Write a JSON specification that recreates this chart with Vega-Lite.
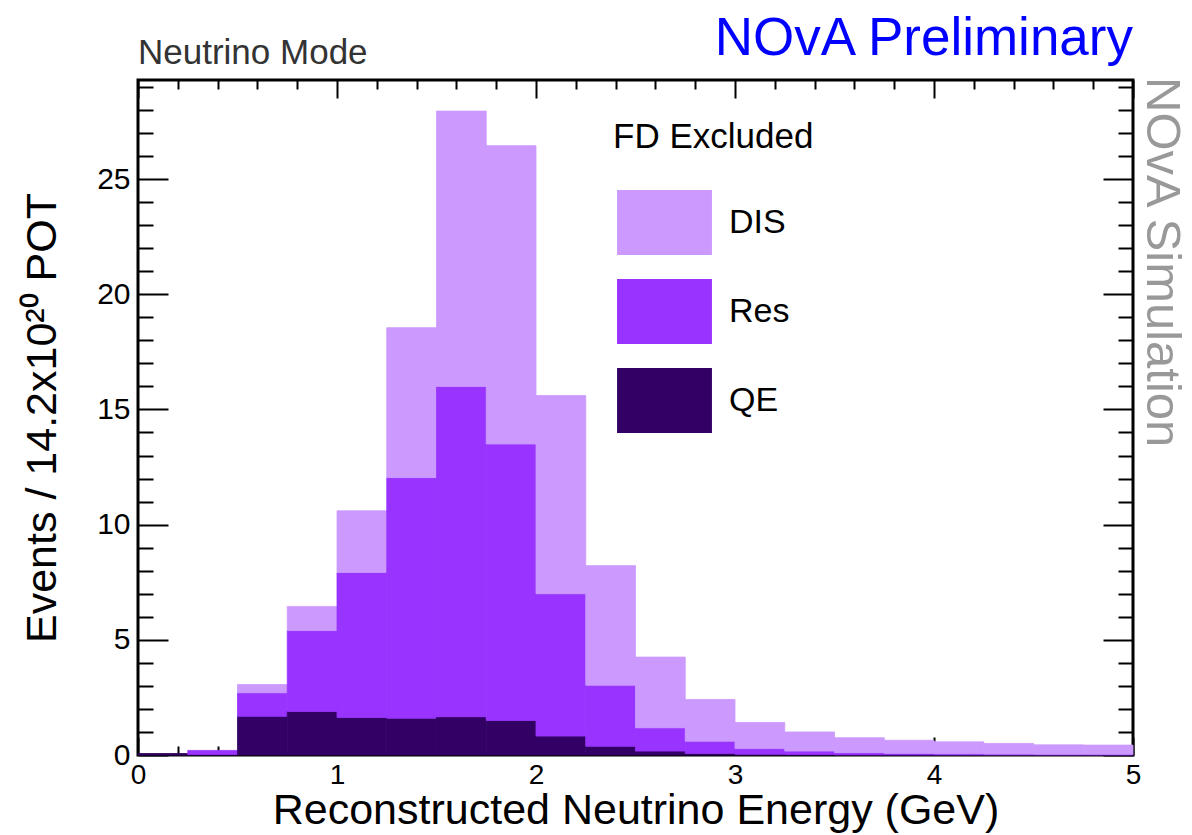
{
  "$schema": "https://vega.github.io/schema/vega-lite/v6.json",
  "width": 995,
  "height": 675,
  "autosize": {"type": "none"},
  "padding": {"left": 138, "top": 80, "right": 59, "bottom": 80},
  "background": "white",
  "config": {
    "font": "Liberation Sans",
    "view": {"stroke": "black", "strokeWidth": 3},
    "axis": {
      "domain": false,
      "grid": false,
      "tickColor": "black",
      "tickWidth": 2,
      "labelColor": "black",
      "titleColor": "black",
      "labelFont": "Liberation Sans",
      "titleFont": "Liberation Sans",
      "titleFontWeight": "normal",
      "labelFlush": false,
      "labelOverlap": false
    }
  },
  "datasets": {
    "hist": [
      {"lo": 0.00, "hi": 0.25, "mode": "QE", "n": 0.06},
      {"lo": 0.25, "hi": 0.50, "mode": "QE", "n": 0.02},
      {"lo": 0.25, "hi": 0.50, "mode": "Res", "n": 0.18},
      {"lo": 0.50, "hi": 0.75, "mode": "QE", "n": 1.68},
      {"lo": 0.50, "hi": 0.75, "mode": "Res", "n": 1.02},
      {"lo": 0.50, "hi": 0.75, "mode": "DIS", "n": 0.36},
      {"lo": 0.75, "hi": 1.00, "mode": "QE", "n": 1.89},
      {"lo": 0.75, "hi": 1.00, "mode": "Res", "n": 3.51},
      {"lo": 0.75, "hi": 1.00, "mode": "DIS", "n": 1.05},
      {"lo": 1.00, "hi": 1.25, "mode": "QE", "n": 1.63},
      {"lo": 1.00, "hi": 1.25, "mode": "Res", "n": 6.29},
      {"lo": 1.00, "hi": 1.25, "mode": "DIS", "n": 2.68},
      {"lo": 1.25, "hi": 1.50, "mode": "QE", "n": 1.60},
      {"lo": 1.25, "hi": 1.50, "mode": "Res", "n": 10.44},
      {"lo": 1.25, "hi": 1.50, "mode": "DIS", "n": 6.51},
      {"lo": 1.50, "hi": 1.75, "mode": "QE", "n": 1.66},
      {"lo": 1.50, "hi": 1.75, "mode": "Res", "n": 14.34},
      {"lo": 1.50, "hi": 1.75, "mode": "DIS", "n": 11.95},
      {"lo": 1.75, "hi": 2.00, "mode": "QE", "n": 1.50},
      {"lo": 1.75, "hi": 2.00, "mode": "Res", "n": 12.00},
      {"lo": 1.75, "hi": 2.00, "mode": "DIS", "n": 12.95},
      {"lo": 2.00, "hi": 2.25, "mode": "QE", "n": 0.82},
      {"lo": 2.00, "hi": 2.25, "mode": "Res", "n": 6.18},
      {"lo": 2.00, "hi": 2.25, "mode": "DIS", "n": 8.60},
      {"lo": 2.25, "hi": 2.50, "mode": "QE", "n": 0.38},
      {"lo": 2.25, "hi": 2.50, "mode": "Res", "n": 2.65},
      {"lo": 2.25, "hi": 2.50, "mode": "DIS", "n": 5.19},
      {"lo": 2.50, "hi": 2.75, "mode": "QE", "n": 0.17},
      {"lo": 2.50, "hi": 2.75, "mode": "Res", "n": 1.01},
      {"lo": 2.50, "hi": 2.75, "mode": "DIS", "n": 3.07},
      {"lo": 2.75, "hi": 3.00, "mode": "QE", "n": 0.07},
      {"lo": 2.75, "hi": 3.00, "mode": "Res", "n": 0.53},
      {"lo": 2.75, "hi": 3.00, "mode": "DIS", "n": 1.81},
      {"lo": 3.00, "hi": 3.25, "mode": "QE", "n": 0.03},
      {"lo": 3.00, "hi": 3.25, "mode": "Res", "n": 0.25},
      {"lo": 3.00, "hi": 3.25, "mode": "DIS", "n": 1.13},
      {"lo": 3.25, "hi": 3.50, "mode": "QE", "n": 0.02},
      {"lo": 3.25, "hi": 3.50, "mode": "Res", "n": 0.15},
      {"lo": 3.25, "hi": 3.50, "mode": "DIS", "n": 0.83},
      {"lo": 3.50, "hi": 3.75, "mode": "QE", "n": 0.01},
      {"lo": 3.50, "hi": 3.75, "mode": "Res", "n": 0.09},
      {"lo": 3.50, "hi": 3.75, "mode": "DIS", "n": 0.65},
      {"lo": 3.75, "hi": 4.00, "mode": "QE", "n": 0.01},
      {"lo": 3.75, "hi": 4.00, "mode": "Res", "n": 0.06},
      {"lo": 3.75, "hi": 4.00, "mode": "DIS", "n": 0.57},
      {"lo": 4.00, "hi": 4.25, "mode": "QE", "n": 0.01},
      {"lo": 4.00, "hi": 4.25, "mode": "Res", "n": 0.04},
      {"lo": 4.00, "hi": 4.25, "mode": "DIS", "n": 0.52},
      {"lo": 4.25, "hi": 4.50, "mode": "Res", "n": 0.04},
      {"lo": 4.25, "hi": 4.50, "mode": "DIS", "n": 0.46},
      {"lo": 4.50, "hi": 4.75, "mode": "Res", "n": 0.03},
      {"lo": 4.50, "hi": 4.75, "mode": "DIS", "n": 0.41},
      {"lo": 4.75, "hi": 5.00, "mode": "Res", "n": 0.03},
      {"lo": 4.75, "hi": 5.00, "mode": "DIS", "n": 0.40}
    ]
  },
  "resolve": {"axis": {"x": "independent", "y": "independent"}},
  "layer": [
    {
      "data": {"name": "hist"},
      "transform": [
        {"calculate": "indexof(['QE', 'Res', 'DIS'], datum.mode)", "as": "stackOrder"},
        {"stack": "n", "groupby": ["lo"], "sort": [{"field": "stackOrder", "order": "ascending"}], "as": ["n0", "n1"]}
      ],
      "mark": {"type": "rect", "strokeWidth": 0.8},
      "encoding": {
        "x": {
          "field": "lo",
          "type": "quantitative",
          "scale": {"domain": [0, 5], "nice": false, "zero": false},
          "axis": {
            "orient": "bottom",
            "values": [0, 0.2, 0.4, 0.6, 0.8, 1, 1.2, 1.4, 1.6, 1.8, 2, 2.2, 2.4, 2.6, 2.8, 3, 3.2, 3.4, 3.6, 3.8, 4, 4.2, 4.4, 4.6, 4.8, 5],
            "tickSize": {"condition": {"test": "abs(datum.value - round(datum.value)) < 0.001", "value": -18}, "value": -9},
            "labelExpr": "abs(datum.value - round(datum.value)) < 0.001 ? toString(round(datum.value)) : ''",
            "labelFontSize": 28,
            "labelPadding": 24,
            "title": "Reconstructed Neutrino Energy (GeV)",
            "titleFontSize": 43,
            "titleX": 497.5,
            "titleY": 68,
            "titleAlign": "center",
            "titleBaseline": "alphabetic"
          }
        },
        "x2": {"field": "hi"},
        "y": {
          "field": "n1",
          "type": "quantitative",
          "scale": {"domain": [0, 29.3], "nice": false},
          "axis": {
            "orient": "left",
            "values": [0, 1, 2, 3, 4, 5, 6, 7, 8, 9, 10, 11, 12, 13, 14, 15, 16, 17, 18, 19, 20, 21, 22, 23, 24, 25, 26, 27, 28, 29],
            "tickSize": {"condition": {"test": "datum.value % 5 === 0", "value": -30}, "value": -15},
            "labelExpr": "datum.value % 5 === 0 ? toString(datum.value) : ''",
            "labelFontSize": 30,
            "labelPadding": 38,
            "title": "Events / 14.2x10²⁰ POT",
            "titleFontSize": 43,
            "titleAngle": 270,
            "titleX": -83,
            "titleY": 337.5,
            "titleAlign": "center",
            "titleBaseline": "alphabetic"
          }
        },
        "y2": {"field": "n0"},
        "color": {
          "field": "mode",
          "type": "nominal",
          "scale": {"domain": ["DIS", "Res", "QE"], "range": ["#cc99ff", "#9933ff", "#330066"]},
          "legend": {
            "orient": "none",
            "legendX": 475,
            "legendY": 40,
            "title": "FD Excluded",
            "titleFontSize": 35,
            "titleFontWeight": "normal",
            "titleColor": "black",
            "titleLimit": 400,
            "titlePadding": 35,
            "labelFontSize": 34,
            "labelColor": "black",
            "labelLimit": 300,
            "symbolType": "M-1.46,-1L1.46,-1L1.46,1L-1.46,1Z",
            "symbolSize": 4225,
            "symbolStrokeWidth": 0,
            "symbolOpacity": 1,
            "symbolOffset": 19,
            "rowPadding": 24,
            "labelOffset": 32,
            "values": ["DIS", "Res", "QE"]
          }
        },
        "stroke": {
          "field": "mode",
          "type": "nominal",
          "scale": {"domain": ["DIS", "Res", "QE"], "range": ["#cc99ff", "#9933ff", "#330066"]},
          "legend": null
        }
      }
    },
    {
      "data": {"name": "hist"},
      "mark": {"type": "rect", "opacity": 0},
      "encoding": {
        "x": {
          "field": "lo",
          "type": "quantitative",
          "axis": {
            "orient": "top",
            "values": [0, 0.2, 0.4, 0.6, 0.8, 1, 1.2, 1.4, 1.6, 1.8, 2, 2.2, 2.4, 2.6, 2.8, 3, 3.2, 3.4, 3.6, 3.8, 4, 4.2, 4.4, 4.6, 4.8, 5],
            "tickSize": {"condition": {"test": "abs(datum.value - round(datum.value)) < 0.001", "value": -18}, "value": -9},
            "labels": false,
            "title": null
          }
        },
        "x2": {"field": "hi"},
        "y": {
          "field": "n",
          "type": "quantitative",
          "axis": {
            "orient": "right",
            "values": [0, 1, 2, 3, 4, 5, 6, 7, 8, 9, 10, 11, 12, 13, 14, 15, 16, 17, 18, 19, 20, 21, 22, 23, 24, 25, 26, 27, 28, 29],
            "tickSize": {"condition": {"test": "datum.value % 5 === 0", "value": -30}, "value": -15},
            "labels": false,
            "title": null
          }
        }
      }
    },
    {
      "data": {"values": [{"label": "NOvA Preliminary"}]},
      "mark": {"type": "text", "align": "right", "baseline": "alphabetic", "fontSize": 53, "color": "#0000ff", "dy": -25},
      "encoding": {
        "x": {"datum": 5, "type": "quantitative", "axis": null},
        "y": {"datum": 29.3, "type": "quantitative", "axis": null},
        "text": {"field": "label"}
      }
    },
    {
      "data": {"values": [{"label": "Neutrino Mode"}]},
      "mark": {"type": "text", "align": "left", "baseline": "alphabetic", "fontSize": 35, "color": "#333333", "dy": -16},
      "encoding": {
        "x": {"datum": 0, "type": "quantitative", "axis": null},
        "y": {"datum": 29.3, "type": "quantitative", "axis": null},
        "text": {"field": "label"}
      }
    },
    {
      "data": {"values": [{"label": "NOvA Simulation"}]},
      "mark": {"type": "text", "align": "left", "baseline": "alphabetic", "angle": 90, "fontSize": 49, "color": "#999999", "dx": -3, "dy": -14},
      "encoding": {
        "x": {"datum": 5, "type": "quantitative", "axis": null},
        "y": {"datum": 29.3, "type": "quantitative", "axis": null},
        "text": {"field": "label"}
      }
    }
  ]
}
